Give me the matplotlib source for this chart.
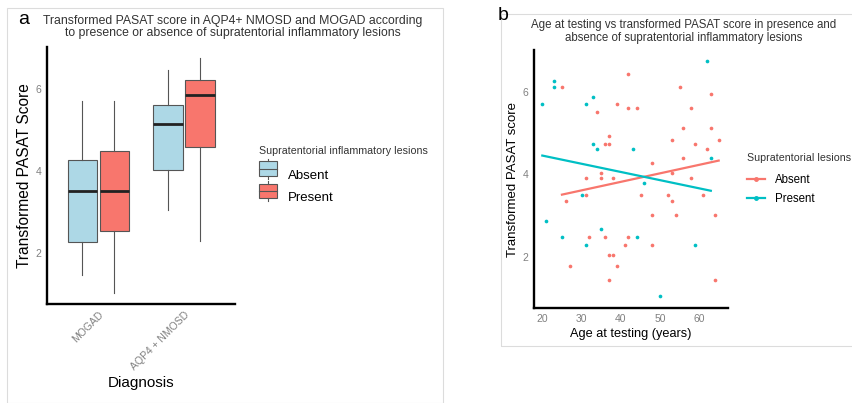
import numpy as np
import matplotlib
matplotlib.use("Agg")
import matplotlib.pyplot as plt
import matplotlib.patches as patches
from matplotlib.legend_handler import HandlerBase
from matplotlib.lines import Line2D

plt.rcParams['font.family'] = ['Liberation Sans', 'DejaVu Sans']

# ---- panel a: box summaries ----
diagnoses = ["MOGAD", "AQP4 + NMOSD"]
groups = ["Absent", "Present"]
# per diagnosis: [Absent, Present]
whis_lo = [[1.45, 1.02], [3.04, 2.28]]
q1 = [[2.25, 2.53], [4.02, 4.57]]
median = [[3.49, 3.49], [5.13, 5.85]]
q3 = [[4.27, 4.48], [5.61, 6.20]]
whis_hi = [[5.70, 5.70], [6.44, 6.74]]

# ---- panel b: age vs score ----
absent_age = [25, 34, 39, 41.9, 41.9, 44, 37, 35.9, 37, 34.9, 34.9, 31, 38, 31, 26,
              48, 55, 57.9, 55.9, 53, 55.9, 59, 61.85, 62.9, 62.9, 64.9, 53, 57.9,
              45, 51.9, 53, 60.9, 48, 54, 63.9, 32, 36, 41.9, 41, 48, 37, 38, 27,
              39, 37, 63.9]
absent_score = [6.13, 5.51, 5.71, 6.45, 5.61, 5.61, 4.94, 4.73, 4.73, 4.04, 3.91, 3.91,
                3.91, 3.50, 3.36, 4.29, 6.13, 5.61, 5.14, 4.83, 4.40, 4.73, 4.63, 5.97,
                5.14, 4.83, 4.04, 3.91, 3.50, 3.50, 3.36, 3.50, 3.02, 3.02, 3.02, 2.48,
                2.48, 2.48, 2.27, 2.27, 2.03, 2.03, 1.76, 1.76, 1.43, 1.43]
present_age = [20, 23.06, 23.06, 31, 33, 33, 34, 43, 61.85, 62.9, 45.9, 30, 21, 25, 31,
               34.9, 44, 59, 50]
present_score = [5.71, 6.28, 6.13, 5.71, 5.89, 4.74, 4.63, 4.63, 6.76, 4.40, 3.78, 3.50,
                 2.86, 2.48, 2.27, 2.67, 2.48, 2.27, 1.03]

fill_cols = ["#ADD8E6", "#F8766D"]
pt_cols = ["#F8766D", "#00BFC4"]
grey = "#808080"

W, H = 853, 403
fig = plt.figure(figsize=(W / 100, H / 100), dpi=100)

# panel frames
fig.add_artist(patches.Rectangle((7.5 / W, 0), (443 - 7.5) / W, 1 - 7.5 / H,
                                 transform=fig.transFigure, fill=False,
                                 edgecolor="#dcdcdc", linewidth=0.8))
fig.add_artist(patches.Rectangle((501 / W, 1 - 346 / H), (860 - 501) / W, (346 - 14) / H,
                                 transform=fig.transFigure, fill=False,
                                 edgecolor="#dcdcdc", linewidth=0.8))
fig.text(18 / W, 1 - 20 / H, "a", fontsize=14, va="center", ha="left")
fig.text(498 / W, 1 - 15 / H, "b", fontsize=14, va="center", ha="left")


def style_axes(ax):
    for s in ["top", "right"]:
        ax.spines[s].set_visible(False)
    for s in ["left", "bottom"]:
        ax.spines[s].set_linewidth(1.7)
        ax.spines[s].set_color("black")
    ax.tick_params(length=0, colors=grey, labelsize=7.5, pad=4)


# ---- panel a ----
ax1 = fig.add_axes([47.3 / W, 1 - 304.3 / H, (235 - 47.3) / W, (304.3 - 46.7) / H])
for i in range(len(diagnoses)):
    for j in range(len(groups)):
        st = [dict(whislo=whis_lo[i][j], q1=q1[i][j], med=median[i][j],
                   q3=q3[i][j], whishi=whis_hi[i][j], fliers=[])]
        ax1.bxp(st, positions=[i + 1 + (j - 0.5) * 0.375], widths=0.35,
                patch_artist=True, showcaps=False,
                boxprops=dict(facecolor=fill_cols[j], edgecolor="#555555", linewidth=0.8),
                whiskerprops=dict(color="#555555", linewidth=0.8),
                medianprops=dict(color="#222222", linewidth=2))
ax1.set_xlim(0.4, 2.6)
ax1.set_ylim(0.74, 7.02)
ax1.set_yticks([2, 4, 6])
ax1.set_xticks([1, 2])
ax1.set_xticklabels(diagnoses, rotation=45, ha="right", rotation_mode="anchor")
style_axes(ax1)
ax1.set_ylabel("Transformed PASAT Score", fontsize=11.2, labelpad=3)
ax1.set_xlabel("Diagnosis", fontsize=11, labelpad=3)
fig.text(233 / W, 1 - 27 / H,
         "Transformed PASAT score in AQP4+ NMOSD and MOGAD according\n"
         "to presence or absence of supratentorial inflammatory lesions",
         ha="center", va="center", fontsize=8.8, color="#333333", linespacing=1.1)


class BoxKey(HandlerBase):
    def create_artists(self, legend, orig_handle, xd, yd, width, height, fontsize, trans):
        r = patches.Rectangle((xd, yd), width, height, facecolor=orig_handle.get_facecolor(),
                              edgecolor="#555555", linewidth=0.8, transform=trans)
        m = Line2D([xd, xd + width], [yd + height / 2] * 2, color="#555555", lw=0.8,
                   transform=trans)
        w1 = Line2D([xd + width / 2] * 2, [yd + height, yd + height * 1.2], color="#555555",
                    lw=0.8, transform=trans)
        w2 = Line2D([xd + width / 2] * 2, [yd, yd - height * 0.2], color="#555555",
                    lw=0.8, transform=trans)
        return [r, m, w1, w2]


handles = [patches.Patch(facecolor=c) for c in fill_cols]
leg1 = fig.legend(handles, groups, handler_map={patches.Patch: BoxKey()},
                  loc="upper left", bbox_to_anchor=(247 / W, 1 - 134 / H),
                  title="Supratentorial inflammatory lesions", frameon=False,
                  fontsize=9.5, title_fontsize=7.7, handlelength=1.4, handleheight=1.3,
                  handletextpad=0.8, labelspacing=0.6, alignment="left")
leg1.get_title().set_color("#333333")
leg1._legend_box.sep = 8

# ---- panel b ----
ax2 = fig.add_axes([534.3 / W, 1 - 308.3 / H, (727.7 - 534.3) / W, (308.3 - 50) / H])
series = [(absent_age, absent_score), (present_age, present_score)]
for (x, y), c, lab in zip(series, pt_cols, groups):
    x = np.array(x)
    y = np.array(y)
    ax2.scatter(x, y, s=7, color=c, linewidths=0, zorder=3)
    k, b0 = np.polyfit(x, y, 1)
    xs = np.array([x.min(), x.max()])
    ax2.plot(xs, k * xs + b0, color=c, lw=1.6, zorder=4, label=lab)
ax2.set_xlim(17.96, 67.2)
ax2.set_ylim(0.74, 7.03)
ax2.set_xticks([20, 30, 40, 50, 60])
ax2.set_yticks([2, 4, 6])
style_axes(ax2)
ax2.set_ylabel("Transformed PASAT score", fontsize=9.5, labelpad=3)
ax2.set_xlabel("Age at testing (years)", fontsize=9.2, labelpad=3)
fig.text(684 / W, 1 - 31.5 / H,
         "Age at testing vs transformed PASAT score in presence and\n"
         "absence of supratentorial inflammatory lesions",
         ha="center", va="center", fontsize=8.3, color="#333333", linespacing=1.1)

lh = [Line2D([0], [0], color=c, lw=1.6, marker="o", markersize=2.5) for c in pt_cols]
leg2 = fig.legend(lh, groups, loc="upper left", bbox_to_anchor=(747 / W, 1 - 153 / H),
                  title="Supratentorial lesions", frameon=False, fontsize=8.3,
                  title_fontsize=7.7, handlelength=1.6, handletextpad=0.8,
                  labelspacing=0.6, borderpad=0, borderaxespad=0, alignment="left")
leg2.get_title().set_color("#333333")
leg2._legend_box.sep = 8

fig.savefig("out.png", dpi=100)
